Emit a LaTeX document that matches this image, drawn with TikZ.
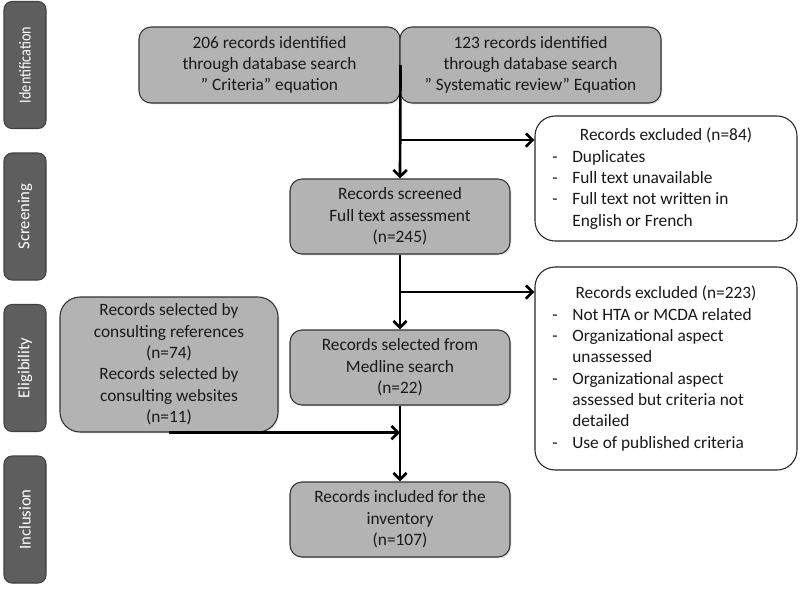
\documentclass[tikz,border=0pt]{standalone}
\usepackage{fontspec}
\setmainfont{Carlito}
\usetikzlibrary{arrows.meta,shadows}
\definecolor{stagegray}{HTML}{5E5E5E}
\definecolor{boxgray}{HTML}{B3B3B3}
\newcommand{\exitem}[1]{\makebox[15pt][l]{-}#1}
\newcommand{\exmore}[1]{\hspace*{15pt}#1}
\tikzset{
  txt/.style={font=\fontsize{13}{16}\selectfont, text=black!90},
  stage/.style={draw=black!75, fill=stagegray, rounded corners=6pt, line width=0.8pt,
    minimum width=95.25pt, minimum height=31.5pt, inner sep=0pt, rotate=90,
    text=white, font=\fontsize{12.5}{15}\selectfont},
  graybox/.style={txt, draw=black!80, fill=boxgray, rounded corners=9pt, line width=0.8pt,
    inner sep=0pt, align=center,
    drop shadow={shadow xshift=1pt, shadow yshift=-1pt, opacity=0.25}},
  whitebox/.style={txt, draw=black!85, fill=white, rounded corners=15pt, line width=0.8pt,
    inner xsep=13pt, inner ysep=0pt, minimum width=196.5pt, text width=170.5pt, align=flush left},
  flow/.style={line width=2pt, -{Straight Barb[length=5pt,width=10pt,line width=2pt]}}
}
\begin{document}
\begin{tikzpicture}[x=0.75pt,y=-0.75pt]
\useasboundingbox (0,0) rectangle (800,597);

\node[stage] (ident) at (25,65) {\scalebox{0.85}[1]{Identification}};
\node[stage] (screen) at (25,216.5) {Screening};
\node[stage] (elig) at (25,368) {Eligibility};
\node[stage] (incl) at (25,519.5) {Inclusion};

\node[graybox, minimum width=195.75pt, minimum height=57pt] (crit) at (269.5,65)
  {206 records identified\\through database search\\'' Criteria'' equation};
\node[graybox, minimum width=195.75pt, minimum height=57pt] (sysrev) at (530.5,65)
  {123 records identified\\through database search\\'' Systematic review'' Equation};
\node[graybox, minimum width=165pt, minimum height=56.25pt] (screened) at (400,216.5)
  {Records screened\\Full text assessment\\(n=245)};
\node[graybox, minimum width=165pt, minimum height=56.25pt] (medline) at (400,367.5)
  {Records selected from\\Medline search\\(n=22)};
\node[graybox, minimum width=165pt, minimum height=56.25pt] (included) at (400,519.5)
  {Records included for the\\inventory\\(n=107)};
\node[graybox, minimum width=163.5pt, minimum height=101.25pt, rounded corners=15pt] (consult) at (169,364.5)
  {Records selected by\\consulting references\\(n=74)\\Records selected by\\consulting websites\\(n=11)};

\node[whitebox, minimum height=93.75pt] (excl1) at (666,178.5)
  {\makebox[\linewidth][c]{Records excluded (n=84)}\\
   \exitem{Duplicates}\\
   \exitem{Full text unavailable}\\
   \exitem{Full text not written in}\\
   \exmore{English or French}};
\node[whitebox, minimum height=152.25pt] (excl2) at (666,368.5)
  {\makebox[\linewidth][c]{Records excluded (n=223)}\\
   \exitem{Not HTA or MCDA related}\\
   \exitem{Organizational aspect}\\
   \exmore{unassessed}\\
   \exitem{Organizational aspect}\\
   \exmore{assessed but criteria not}\\
   \exmore{detailed}\\
   \exitem{Use of published criteria}};

\coordinate (split1) at (400,140);
\coordinate (split2) at (400,292);

\draw[flow] (crit.east) -- (screened.north);
\draw[flow] (split1) -- (split1 -| excl1.west);
\draw[flow] (screened.south) -- (medline.north);
\draw[flow] (split2) -- (split2 -| excl2.west);
\draw[flow] (medline.south) -- (included.north);
\draw[flow] (consult.south) -- (consult.south -| medline.south);
\end{tikzpicture}
\end{document}
